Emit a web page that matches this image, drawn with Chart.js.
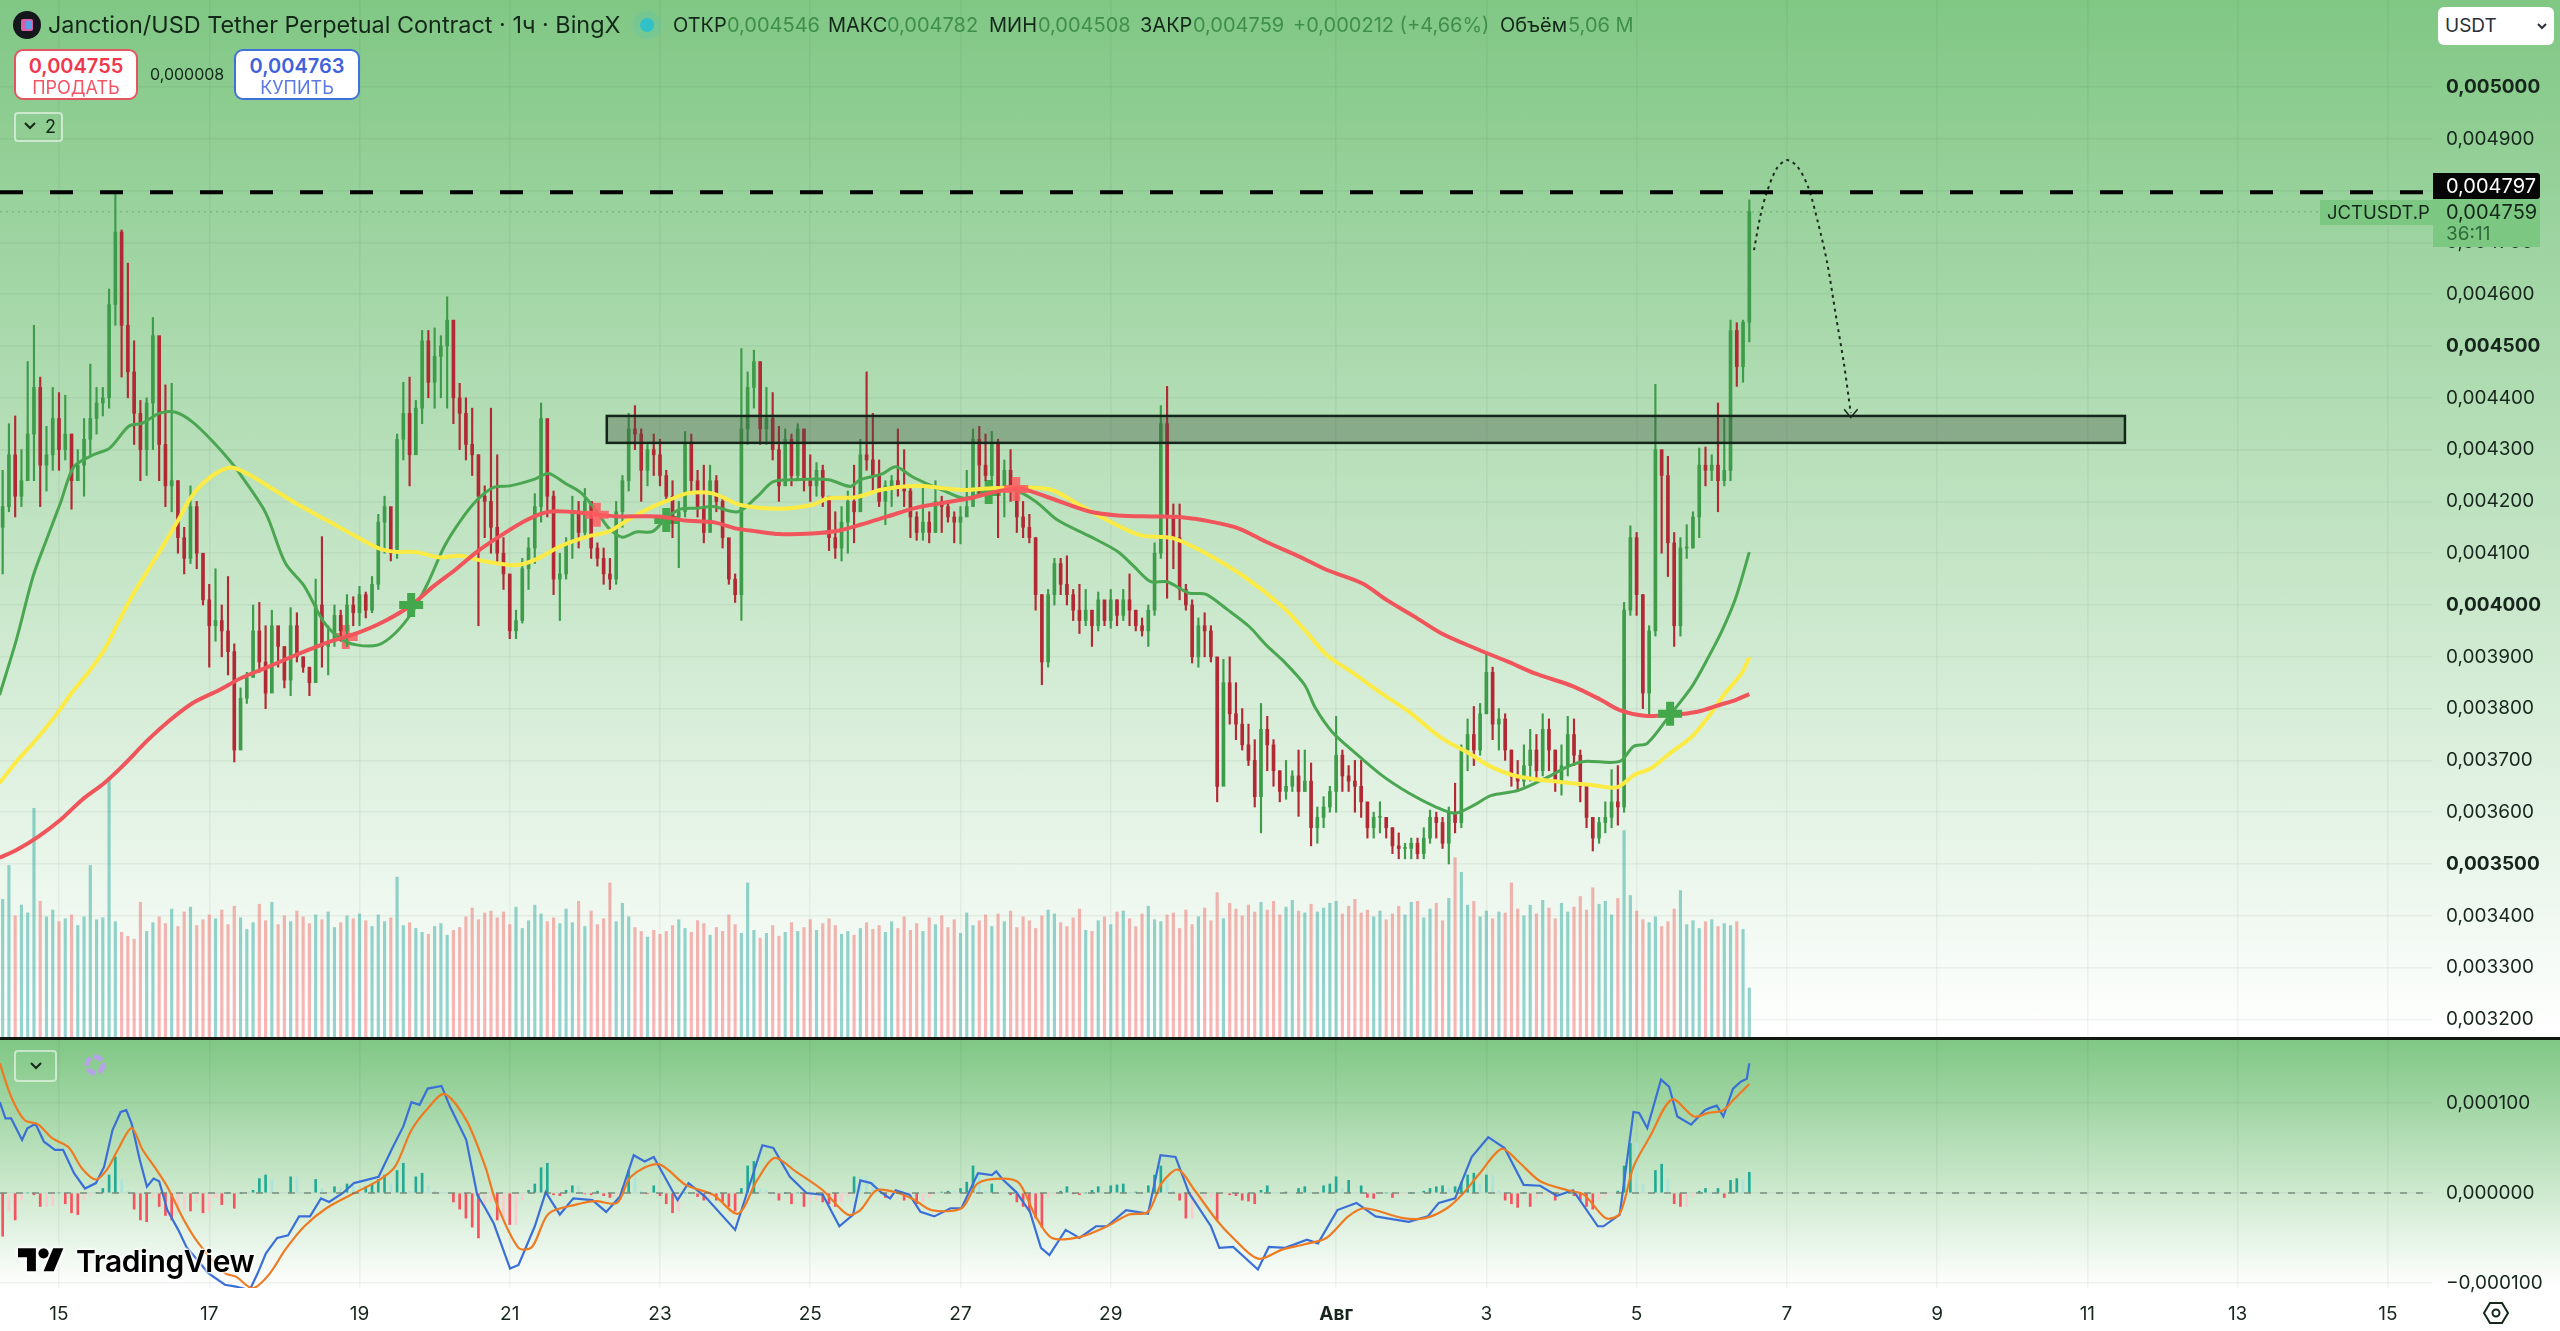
<!DOCTYPE html>
<html lang="ru">
<head>
<meta charset="utf-8">
<title>JCTUSDT.P</title>
<script src="https://cdn.jsdelivr.net/npm/chart.js@4"></script>
<style>
  html, body { margin: 0; padding: 0; background: #fff; }
  body { width: 2560px; height: 1331px; position: relative; overflow: hidden; font-family: Inter, sans-serif; color: #14281a; }
  #pricePane { position: absolute; left: 0; top: 0; width: 2560px; height: 1037px; background: linear-gradient(#80c784, #ffffff); }
  #macdPane { position: absolute; left: 0; top: 1040px; width: 2560px; height: 291px; background: linear-gradient(#80c784, #ffffff 248px); }
  #divider { position: absolute; left: 0; top: 1037px; width: 2560px; height: 3px; background: #10180f; }
  .t { position: absolute; white-space: nowrap; }
  .ohlc { top: 12px; font-size: 20px; line-height: 26px; }
  .val { color: #3f8f4c; }
  .btn { position: absolute; top: 49px; height: 47px; background: #fff; border-radius: 9px; border: 2px solid; text-align: center; }
  .btn b { display: block; font-size: 20px; line-height: 24px; margin-top: 3px; font-weight: 600; }
  .btn span { display: block; font-size: 18px; line-height: 20px; opacity: .85; }
  .fold { position: absolute; border: 2px solid rgba(255,255,255,.55); border-radius: 4px; box-sizing: border-box; }
</style>
</head>
<body>
<div id="pricePane"><canvas id="priceChart" width="2560" height="1037"></canvas></div>
<div id="divider"></div>
<div id="macdPane"><canvas id="macdChart" width="2560" height="291"></canvas></div>

<svg class="t" style="left:13px;top:11px" width="28" height="28"><circle cx="14" cy="14" r="14" fill="#14181c"/><rect x="8" y="8" width="12" height="12" rx="2" fill="#d860a8"/><rect x="13" y="10" width="6" height="8" fill="#5aa0e8"/></svg>
<div class="t" style="left:48px;top:10px;font-size:23.4px;line-height:30px">Janction/USD Tether Perpetual Contract · 1ч · BingX</div>
<svg class="t" style="left:632px;top:10px" width="30" height="30"><circle cx="15" cy="15" r="14" fill="#5fc5a8" opacity=".35"/><circle cx="15" cy="15" r="7" fill="#2fc0c8"/></svg>
<div class="t ohlc" style="left:673px">ОТКР</div><div class="t ohlc val" style="left:727px">0,004546</div>
<div class="t ohlc" style="left:828px">МАКС</div><div class="t ohlc val" style="left:887px">0,004782</div>
<div class="t ohlc" style="left:989px">МИН</div><div class="t ohlc val" style="left:1038px">0,004508</div>
<div class="t ohlc" style="left:1140px">ЗАКР</div><div class="t ohlc val" style="left:1193px">0,004759</div>
<div class="t ohlc val" style="left:1293px">+0,000212 (+4,66%)</div>
<div class="t ohlc" style="left:1500px">Объём</div><div class="t ohlc val" style="left:1568px">5,06 M</div>

<div class="btn" style="left:14px;width:120px;border-color:#e25561;color:#f0374c"><b>0,004755</b><span>ПРОДАТЬ</span></div>
<div class="t" style="left:150px;top:63px;font-size:16px;line-height:22px">0,000008</div>
<div class="btn" style="left:234px;width:122px;border-color:#3f72d8;color:#3f62dc"><b>0,004763</b><span>КУПИТЬ</span></div>
<div class="fold" style="left:14px;top:112px;width:49px;height:30px"></div>
<svg class="t" style="left:22px;top:120px" width="16" height="12"><path d="M3 3l5 5 5-5" fill="none" stroke="#14281a" stroke-width="2"/></svg>
<div class="t" style="left:45px;top:114px;font-size:18px;line-height:26px">2</div>

<div class="t" style="left:2438px;top:7px;width:116px;height:38px;background:#fff;border-radius:6px"></div>
<div class="t" style="left:2445px;top:12px;font-size:19px;line-height:28px;color:#2a2e39">USDT</div>
<svg class="t" style="left:2536px;top:20px" width="12" height="12"><path d="M2 4l4 4 4-4" fill="none" stroke="#2a2e39" stroke-width="2"/></svg>

<div class="t" style="left:2320px;top:200px;width:113px;height:25px;background:#7cc782"></div>
<div class="t" style="left:2327px;top:199px;font-size:18.5px;line-height:27px">JCTUSDT.P</div>
<div class="t" style="left:2433px;top:199px;width:107px;height:48px;background:#7cc782"></div>
<div class="t" style="left:2446px;top:199px;font-size:20px;line-height:26px">0,004759</div>
<div class="t" style="left:2446px;top:222px;font-size:19px;line-height:24px;color:#2f6b3a">36:11</div>
<div class="t" style="left:2433px;top:173px;width:107px;height:26px;background:#050505;border-radius:0 3px 3px 0"></div>
<div class="t" style="left:2446px;top:173px;font-size:20px;line-height:26px;color:#fff">0,004797</div>

<div class="fold" style="left:14px;top:1050px;width:43px;height:32px"></div>
<svg class="t" style="left:28px;top:1060px" width="16" height="12"><path d="M3 3l5 5 5-5" fill="none" stroke="#14281a" stroke-width="2"/></svg>
<svg class="t" style="left:83px;top:1053px" width="24" height="24"><circle cx="12" cy="12" r="8" fill="none" stroke="#b5a4e6" stroke-width="5" stroke-dasharray="9 3"/></svg>

<svg class="t" style="left:18px;top:1243px;filter:drop-shadow(0 0 2px #fff) drop-shadow(0 0 2px #fff)" width="46" height="36" viewBox="0 0 36 28"><path d="M14 22H7V11H0V4h14v18zM28 22h-8l7.5-18h8L28 22z" fill="#000"/><circle cx="20" cy="8" r="4" fill="#000"/></svg>
<div class="t" style="left:76px;top:1241px;font-size:30px;line-height:40px;font-weight:600;color:#000;letter-spacing:-.4px;text-shadow:0 0 3px #fff,0 0 3px #fff,0 0 3px #fff,0 0 3px #fff">TradingView</div>
<svg class="t" style="left:2482px;top:1299px" width="28" height="28"><path d="M8 4h12l6 10-6 10H8L2 14z" fill="none" stroke="#14281a" stroke-width="2"/><circle cx="14" cy="14" r="3.5" fill="none" stroke="#14281a" stroke-width="2"/></svg>

<script>
// prices and MACD are kept in millionths of USDT, volume in millions
const firstHour = -18; // hours from 15 Jul 00:00
const highs = [
  4260,4350,4365,4300,4470,4540,4440,4345,4420,4410,
  4405,4330,4300,4360,4465,4420,4420,4610,4795,4724,
  4660,4510,4395,4400,4555,4465,4425,4428,4240,4150,
  4230,4200,4050,4040,4070,4000,4055,3925,3840,3870,
  4000,4005,3960,3990,3950,3870,3995,3985,3900,3880,
  4050,4132,3960,4000,3990,4020,4016,4036,4025,4055,
  4175,4210,4160,4330,4430,4440,4395,4530,4530,4535,4520,
  4595,4520,4428,4400,4380,4290,4230,4380,4290,4130,
  4050,3990,4090,4130,4215,4390,4350,4220,4100,4130,
  4210,4200,4225,4180,4120,4110,4090,4200,4250,4370,
  4385,4340,4310,4330,4320,4260,4240,4200,4335,4330,
  4260,4270,4270,4250,4210,4120,4060,4495,4450,4492,
  4465,4420,4410,4345,4340,4330,4350,4330,4290,4275,
  4270,4200,4180,4190,4220,4270,
  4320,4450,4370,4280,4240,4250,4340,4300,4225,4180,
  4230,4180,4240,4210,4200,4180,4190,4260,4340,4345,
  4330,4335,4320,4280,4300,4220,4200,4175,4130,4020,
  4030,4090,4090,4095,4030,4040,4030,3990,4025,4000,
  4030,4010,4030,4060,3990,3975,4000,4120,4385,4422,
  4195,4195,4040,4010,3975,3985,3960,3880,3895,3900,
  3850,3800,3770,3740,3810,3785,3740,3680,3700,3680,
  3720,3720,3695,3610,3630,3650,3785,3720,3690,3700,
  3700,3600,3600,3620,3590,3570,3560,3540,3550,3550,
  3570,3604,3600,3590,3610,3656,3730,3780,3804,3810,
  3908,3880,3800,3790,3720,3700,3730,3760,3750,3790,
  3780,3720,3730,3785,3780,3720,3650,3590,3590,3620,
  3682,3690,4005,4153,4140,4020,3960,4426,4270,4287,
  4140,4130,4155,4180,4303,4305,4290,
  4390,4360,4550,4545,4550,4782
];
const lows = [
  4060,4180,4170,4190,4260,4240,4190,4220,4260,4260,
  4280,4185,4240,4210,4290,4330,4365,4380,4540,4440,
  4400,4310,4240,4250,4300,4240,4190,4180,4100,4060,
  4080,4070,4000,3880,3930,3900,3865,3697,3770,3810,
  3870,3870,3800,3885,3880,3840,3825,3890,3870,3825,
  3890,3880,3865,3920,3930,3920,3960,3960,3975,3985,
  4030,4100,4085,4090,4280,4230,4300,4350,4400,4380,4400,
  4380,4350,4300,4280,4250,3960,4130,4100,4080,4030,
  3935,3935,3965,4030,4080,4160,4170,4020,3970,4050,
  4090,4110,4130,4090,4075,4040,4030,4040,4150,4220,
  4300,4200,4230,4250,4230,4200,4130,4072,4170,4220,
  4170,4120,4170,4180,4110,4040,4005,3970,4310,4380,
  4310,4310,4280,4200,4240,4230,4240,4220,4200,4210,
  4190,4105,4090,4085,4100,4120,
  4210,4260,4220,4190,4155,4190,4210,4190,4130,4125,
  4125,4120,4140,4140,4160,4120,4118,4180,4200,4210,
  4240,4230,4130,4170,4200,4140,4130,4120,3990,3846,
  3880,4000,4020,4000,3970,3945,3960,3920,3950,3960,
  3955,3960,3970,3960,3950,3940,3920,3980,4090,4013,
  4070,4010,3990,3888,3880,3900,3890,3620,3700,3770,
  3740,3720,3690,3610,3560,3680,3650,3620,3625,3640,
  3592,3640,3535,3540,3570,3600,3600,3640,3640,3600,
  3590,3550,3550,3560,3550,3520,3510,3510,3510,3510,
  3510,3540,3550,3530,3500,3560,3570,3680,3690,3710,
  3790,3740,3720,3700,3650,3640,3650,3660,3660,3670,
  3680,3640,3633,3670,3690,3620,3570,3525,3540,3560,
  3570,3575,3600,3980,3980,3800,3788,3940,4100,4055,
  3920,3940,4090,4110,4130,4230,4240,
  4180,4230,4240,4422,4430,4508
];
const closes = [
  4190,4290,4210,4240,4330,4420,4270,4290,4360,4300,
  4330,4240,4270,4320,4360,4390,4400,4580,4720,4540,
  4450,4370,4300,4390,4520,4310,4230,4240,4130,4090,
  4190,4100,4010,3960,3970,3950,3910,3720,3820,3860,
  3950,3890,3830,3960,3920,3855,3960,3900,3880,3850,
  4000,3920,3930,3980,3950,4000,3985,4020,3990,4040,
  4160,4190,4100,4320,4370,4290,4380,4510,4430,4480,4500,
  4550,4400,4370,4310,4290,4210,4200,4150,4100,4060,
  3950,3970,4070,4110,4190,4360,4210,4050,4060,4120,
  4180,4140,4200,4110,4090,4060,4050,4180,4240,4340,
  4330,4260,4300,4290,4250,4210,4170,4180,4310,4240,
  4190,4140,4240,4200,4130,4050,4020,4340,4420,4470,
  4340,4360,4300,4230,4320,4250,4340,4240,4230,4260,
  4210,4130,4110,4160,4200,4180,
  4290,4280,4250,4200,4230,4240,4230,4220,4170,4140,
  4160,4140,4200,4190,4170,4160,4170,4190,4320,4270,
  4250,4310,4220,4260,4230,4170,4150,4130,4020,3890,
  4020,4080,4040,4020,3990,3970,3990,3960,4010,3970,
  4010,3980,4010,3990,3960,3950,3990,4100,4350,4170,
  4130,4030,4000,3900,3960,3950,3900,3650,3850,3790,
  3770,3730,3700,3630,3760,3730,3680,3640,3650,3670,
  3640,3660,3570,3590,3610,3640,3710,3670,3660,3650,
  3620,3570,3590,3590,3570,3535,3530,3530,3540,3520,
  3550,3590,3580,3540,3600,3580,3720,3750,3720,3790,
  3870,3770,3780,3720,3670,3660,3690,3720,3680,3760,
  3720,3660,3690,3750,3710,3650,3590,3550,3580,3590,
  3620,3610,3990,4130,4020,3830,3950,4300,4250,4120,
  3960,4110,4110,4170,4270,4260,4270,
  4240,4260,4530,4460,4546,4759
];
const firstOpen = 4150;
const volumes = [
  14.2,17.7,12.5,13.6,12.8,23.6,14.0,12.4,13.1,11.9,12.2,12.6,11.5,12.4,17.7,12.1,12.3,26.8,11.9,10.8,
  10.4,10.1,13.9,10.9,11.8,12.4,11.7,13.2,11.4,12.9,13.4,11.5,12.1,12.6,12.2,13.1,11.6,13.5,12.3,11.1,
  11.8,13.7,12.0,13.9,11.6,12.5,11.9,13.0,12.4,11.7,12.6,12.1,12.9,11.3,11.8,12.5,12.2,12.7,12.0,11.4,
  12.6,11.9,12.3,16.5,11.5,11.8,11.2,10.8,10.6,11.4,11.7,10.5,11.0,11.3,12.4,13.3,12.1,12.8,13.0,12.3,
  12.9,11.6,13.4,11.2,12.0,13.6,12.7,11.9,12.3,11.7,13.2,11.8,14.0,11.4,13.0,11.6,12.2,15.9,11.9,13.8,
  12.4,11.3,10.9,10.3,11.0,10.6,10.9,11.5,12.1,11.2,10.8,12.0,11.7,10.5,11.3,10.9,12.6,11.6,10.7,15.9,
  11.0,10.2,10.7,11.5,10.4,10.8,11.8,10.9,11.3,12.1,11.0,11.7,12.2,11.5,10.6,10.9,10.5,11.2,11.8,11.1,
  11.5,10.8,11.9,11.2,12.4,11.0,11.7,10.9,12.3,11.6,12.5,11.3,12.1,10.7,12.8,11.5,12.0,12.6,11.4,12.7,
  11.9,13.0,11.3,12.4,12.0,11.2,12.5,13.1,12.7,11.8,11.4,12.3,13.2,11.0,10.9,12.0,12.4,11.6,12.9,13.0,
  12.2,11.4,12.7,13.5,12.1,11.9,12.6,12.8,11.2,13.1,11.6,12.4,13.3,12.0,14.9,12.2,13.8,13.2,12.5,13.6,
  12.9,13.9,13.1,14.0,12.6,13.4,14.1,13.0,12.8,13.7,12.9,13.3,13.8,14.0,12.7,13.5,14.2,12.8,13.1,12.4,
  13.0,12.1,12.7,13.5,12.6,13.9,14.0,12.3,13.2,13.8,12.0,14.3,18.5,17.0,13.6,14.0,12.4,13.0,12.2,12.9,
  12.8,15.9,13.2,12.5,13.6,12.7,14.1,13.3,12.2,13.8,12.9,13.4,14.5,13.1,15.4,13.7,14.0,12.6,14.3,21.3,
  14.6,13.0,12.1,11.8,12.4,11.4,11.9,13.2,15.1,11.6,12.0,11.2,11.9,12.1,11.4,11.7,11.5,11.9,11.1,5.06
];
const macdHist = [
  -48,-20,-30,-8,0,-2,-15,-15,-14,0,
  -12,-22,-24,-8,-3,0,5,20,40,15,
  2,-18,-30,-32,-5,-15,-25,-30,-22,-18,
  -20,-10,-22,-20,-5,-13,0,-17,0,0,
  3,16,20,15,0,0,18,18,0,0,
  15,5,0,7,6,10,8,0,7,10,
  15,20,10,25,33,2,18,22,8,2,1,
  0,-10,-18,-28,-38,-50,-15,-10,-30,-30,
  -35,-35,-8,3,10,28,33,-2,-3,3,
  8,8,-1,-2,2,-3,-5,-3,5,25,
  25,2,-1,8,-3,-12,-22,-20,0,0,
  -4,-8,-5,-8,-10,-15,-20,5,30,35,
  5,3,0,-8,0,-12,0,-15,-10,-8,
  -10,-12,-15,-10,-3,18,
  18,18,12,5,-5,-5,-1,-8,-5,-12,
  -10,-5,-1,1,2,2,5,12,30,20,
  2,10,1,1,-2,-10,-15,-20,-28,-38,
  -5,-2,2,7,-1,-2,0,3,7,0,
  8,9,10,0,1,1,8,20,30,15,
  2,-8,-28,-28,-10,-6,-5,-30,-1,-2,
  -3,-8,-9,-12,3,8,0,0,1,0,
  5,7,1,0,8,10,18,5,14,0,
  8,-5,-6,-1,0,-5,-3,-1,0,0,
  2,5,7,8,5,7,12,20,22,10,
  20,20,3,-8,-12,-16,0,-15,-6,-3,
  -2,-8,-2,2,-3,-8,-15,-18,-8,-3,
  -1,2,30,55,55,10,0,25,32,15,
  -12,-15,-15,-3,2,5,1,
  5,-5,14,16,15,23
];

// moving averages
const greenMaHours = [-19,-13.6,-8.3,-4,0.4,4.8,11,16.2,22.3,26.7,32,37.2,42.5,48.6,54.8,59.1,66.1,72.3,78.4,84.5,89.8,95,102,107.3,112.6,117.8,123.1,128.4,133.6,138.9,144.1,152,156.4,161.7,166.9,172.2,175.7,180,184.4,189.7,194,198.5,203.7,209,216.9,223,228.2,235.3,245.8,252.8,256,263,267.3,272.5,277,282.2,289.2,296.2,305,312,319,329.5,338.3,343.5,348.8,354,361,366.3,373.3,380.3,385.6,390.8,397.9,401.4,406.6,413.6,422.4,431.2,439.9,446,452.2,457.4,466.2,475,482,487.2,498.6,503,507.4,514.7,521.7,527,531.4,535.8,540];
const greenMa = [3826,3933,4055,4126,4196,4267,4290,4303,4345,4351,4370,4372,4354,4319,4277,4242,4177,4081,4036,3968,3936,3923,3923,3945,3984,4042,4113,4164,4203,4227,4230,4243,4254,4235,4216,4177,4148,4131,4141,4142,4168,4185,4187,4190,4180,4209,4238,4242,4242,4229,4242,4253,4267,4248,4235,4222,4206,4216,4222,4200,4164,4132,4103,4074,4045,4045,4023,4021,3991,3958,3923,3894,3846,3801,3756,3717,3672,3637,3610,3598,3614,3632,3642,3666,3688,3698,3698,3727,3733,3788,3843,3900,3952,4016,4102];
const yellowMaHours = [-19,-13.6,-8.3,-1.3,4,10,14.4,18.8,23.2,28.5,33.7,38.1,41.6,46,51.2,55.6,61.8,68.8,77.5,86.3,95,102,107.3,114.3,121.3,128.4,135.4,145.9,152,160,168.7,175.7,182.7,189.7,195,201,209,217.7,230,240.5,245.8,254.5,263,273.4,280.4,289.2,296.2,308.5,317.2,326,334.8,345.3,355.8,366.3,378.6,390.8,397.9,404.9,413.6,422.4,431.2,441.7,450.4,457.4,466.2,480.2,489,497.7,503.3,508.6,514.7,521.7,527,532.3,537.5,540];
const yellowMa = [3656,3698,3733,3785,3830,3875,3913,3965,4016,4068,4119,4164,4203,4235,4258,4265,4248,4222,4190,4161,4132,4110,4103,4102,4092,4095,4085,4077,4087,4113,4132,4142,4168,4190,4203,4216,4215,4193,4186,4193,4206,4208,4223,4230,4227,4222,4225,4227,4222,4193,4164,4135,4129,4100,4055,3997,3952,3904,3868,3830,3794,3743,3714,3688,3669,3658,3653,3648,3672,3685,3714,3746,3785,3830,3868,3899];
const redMaHours = [-19,-13.6,-6.6,0.4,7.4,14.4,20.6,28.5,35.5,42.5,51.2,58.2,67,75.8,86.3,95,103.8,112.6,119.6,126.6,133.6,140.6,149.4,156.4,163.4,172.2,179.2,191.5,200.2,209,216,223,230,240.5,249.3,256,264.7,273.4,282.2,291,298,306.7,315.5,329.5,338.3,350.5,359.3,368,376.8,385.6,396.1,404.9,416.3,424.1,432.9,441.7,452.2,462.7,471.5,483.7,492.5,498.6,506.5,515.3,523.5,530.5,535.8,540];
const redMa = [3512,3527,3553,3585,3624,3656,3691,3740,3778,3810,3836,3859,3881,3904,3929,3945,3968,4000,4036,4068,4103,4132,4164,4180,4180,4174,4171,4171,4163,4160,4148,4142,4137,4138,4144,4155,4171,4187,4197,4206,4217,4225,4209,4180,4173,4171,4169,4161,4148,4122,4094,4068,4042,4010,3978,3945,3917,3891,3868,3843,3817,3797,3786,3788,3794,3807,3817,3828];

// MACD and signal lines
const macdHours = [-18.9,-17.1,-15.3,-11.8,-10.1,-7.5,-4.8,-1.3,1.3,4.8,8.3,11.8,14.4,17.1,19.7,21.5,23.2,25.8,28.1,30.2,32,34.6,38.1,40.7,47.7,53,56.5,60.9,63.5,66.1,69.7,73.2,76.7,80.2,83.7,86.3,90.7,94.2,97.7,102.1,106.5,110,112.6,115.2,117.8,122.2,124.9,130.1,133.6,136.2,138.9,144.1,146.8,152,155.5,160,164.3,170.4,174.8,179.2,183.6,187.1,190,197.6,201.1,206.4,216,224.7,228.2,233.5,238.8,244,249.3,253.7,256,259.4,262.9,265.5,267.3,271.7,275.2,279.6,284.8,288.3,293.6,298,299.4,301.5,305.8,310.2,313.7,316.4,321.6,326,331.3,334.8,340.9,347.9,351.9,356.7,361,368,370.7,375.1,383,386.5,391.7,398.7,402.2,408.4,414.5,420.6,431.2,437.3,440.8,446,451.3,456.6,461.8,467.9,473.2,478.5,483.7,491.6,493.4,498.6,503,504.8,507.4,511.8,514.4,517,521.4,525.8,527,529.6,531.7,534.8,537.4,539.2,540];
const macdLine = [101,83,83,59,72,77,57,48,48,22,5,11,29,70,90,92,77,37,7,16,13,-19,-41,-60,-89,-102,-104,-108,-89,-67,-50,-47,-26,-26,-6,-10,0,11,14,18,50,74,101,98,116,119,96,59,-2,-17,-34,-84,-80,-37,1,-24,-6,-8,-21,-4,42,35,40,-8,11,-4,-41,53,50,18,0,-2,-37,-24,14,11,0,-6,3,-2,-21,-26,-17,-17,22,20,24,15,1,-21,-61,-69,-41,-50,-37,-37,-19,-23,42,40,0,-37,-61,-60,-85,-60,-61,-52,-56,-19,-11,-26,-32,-26,-11,-6,40,62,50,9,8,-3,3,-37,-37,-24,90,89,72,126,118,85,76,92,94,97,85,116,124,127,144];
const signalHours = [-18.9,-15.3,-11,-6.6,-2.2,3,7.4,11.8,15.3,18.8,23.2,26.7,31.1,34.6,39.9,44.6,53,56.5,61.8,67,72.3,78.4,85.4,93.3,102.1,107.3,112.6,117.8,123.1,130.1,136.2,139.7,146.8,151.1,156.4,165.1,171.3,178.3,182.7,191.5,200.2,209,216.9,223,228.6,235.3,244,251.9,256,261.2,268.2,273.4,278.7,288.3,293.6,301.5,306.7,312,317.2,326,334.8,341.8,347.9,352.3,357.5,362.8,369.8,375.1,383,390.8,397.9,404.9,411.9,417.1,429.4,436.4,443.4,448.7,453.9,460.9,466.2,473.2,482,487.2,494.2,498.6,503,508.3,515.3,522.3,527,531.7,534.8,540];
const signalLine = [144,107,81,76,61,51,27,15,26,48,72,48,26,7,-30,-56,-89,-93,-106,-91,-63,-37,-17,-2,14,29,70,94,110,81,29,-11,-61,-60,-23,-13,-9,-11,18,32,9,-2,-23,14,39,24,3,-24,-19,3,0,-8,-19,-17,11,16,11,-26,-50,-49,-37,-24,-21,11,26,3,-30,-50,-73,-63,-57,-50,-26,-17,-28,-28,-17,0,22,49,35,13,3,-2,-28,-23,29,63,104,85,89,92,103,121];

// cross signals: the first group sits on top of the lines, the second under the candles
const greenCrossHours = [112.5, 514.7];
const greenCrossPrices = [4000, 3790];
const redCrossHours = [171.8, 305.8];
const redCrossPrices = [4174, 4224];
const greenCrossUnderHours = [194, 297];
const greenCrossUnderPrices = [4164, 4218];
const redCrossUnderHours = [91.6];
const redCrossUnderPrices = [3938];

// drawings
const resistancePrice = 4797;
const lastPrice = 4759;
const zoneHours = [175, 660];
const zonePrices = [4313, 4365];
const arcHours = [541.5,543.5,545.6,548.8,552,555.4,558.8,562,564.9,567.7,570.2,572.4];
const arcPrices = [4685,4750,4797,4843,4859,4846,4807,4737,4660,4557,4467,4371];
const arrowHours = [570.3,572.4,574.6];
const arrowPrices = [4378,4362,4378];

// axes
const axisMinHour = -18.85;
const axisMaxHour = 758.1;
const dayTickHours = [0,48,96,144,192,240,288,336,408,456,504,552,600,648,696,744];
const dayTickLabels = ["15","17","19","21","23","25","27","29","Авг","3","5","7","9","11","13","15"];
const priceTicks = [5000,4900,4800,4700,4600,4500,4400,4300,4200,4100,4000,3900,3800,3700,3600,3500,3400,3300,3200];
const boldPriceTicks = [5000,4500,4000,3500];
const macdTicks = [100,0,-100];

const labelColor = "#17261c";
const gridColor = "rgba(30,50,35,0.055)";
const upColor = "#3e9b4a";
const downColor = "#b22833";
const crossGreen = "#43a84b";
const crossRed = "rgba(255,90,95,0.85)";

Chart.defaults.font.family = "Inter, sans-serif";
Chart.defaults.font.size = 19;
Chart.defaults.color = labelColor;

const hours = closes.map((_, i) => firstHour + i * 2);
const opens = closes.map((_, i) => (i === 0 ? firstOpen : closes[i - 1]));
const candleColors = closes.map((c, i) => (c >= opens[i] ? upColor : downColor));
const volumeColors = closes.map((c, i) => (c >= opens[i] ? "rgba(38,166,154,0.48)" : "rgba(239,83,80,0.42)"));
const histColors = macdHist.map((v, i) => {
  const prev = i === 0 ? 0 : macdHist[i - 1];
  if (v >= 0) return v > prev ? "#22ab94" : "#ace5dc";
  return v < prev ? "#f7525f" : "#fccbcd";
});

function toPoints(xs, ys) {
  return xs.map((x, i) => ({ x, y: ys[i] }));
}

function formatPrice(v) {
  const text = (Math.abs(v) / 1e6).toFixed(6).replace(".", ",");
  return v < 0 ? "\u2212" + text : text;
}

function noPadding(scale) {
  scale.paddingTop = 0;
  scale.paddingBottom = 0;
  scale.paddingLeft = 0;
  scale.paddingRight = 0;
}

function tickFont(boldValues) {
  return (ctx) => ({ size: 19, weight: ctx.tick && boldValues.includes(ctx.tick.value) ? "700" : "400" });
}

function rightAxis(min, max, ticks, boldTicks) {
  return {
    position: "right",
    min,
    max,
    afterBuildTicks: (s) => { s.ticks = ticks.map((value) => ({ value })); },
    afterFit: (s) => { s.width = 128; noPadding(s); },
    grid: { color: gridColor, lineWidth: 1.5, drawTicks: false },
    border: { display: false },
    ticks: {
      padding: 14,
      autoSkip: false,
      callback: formatPrice,
      color: labelColor,
      font: tickFont(boldTicks),
    },
  };
}

function timeAxis(showLabels) {
  return {
    type: "linear",
    offset: false,
    min: axisMinHour,
    max: axisMaxHour,
    afterBuildTicks: (s) => { s.ticks = dayTickHours.map((value) => ({ value })); },
    afterFit: (s) => { s.height = showLabels ? 43 : 0; noPadding(s); },
    grid: { offset: false, color: gridColor, lineWidth: 1.5, drawTicks: false },
    border: { display: false },
    ticks: {
      display: showLabels,
      padding: 15,
      autoSkip: false,
      maxRotation: 0,
      callback: (v) => dayTickLabels[dayTickHours.indexOf(v)],
      color: labelColor,
      font: tickFont([408]),
    },
  };
}

function maLine(xs, ys, color, width) {
  return {
    type: "line",
    data: toPoints(xs, ys),
    borderColor: color,
    borderWidth: width,
    pointRadius: 0,
    tension: 0.3,
    order: 1,
  };
}

function crossMarks(xs, ys, color, order) {
  return {
    type: "line",
    data: toPoints(xs, ys),
    showLine: false,
    pointStyle: "cross",
    pointRadius: 12,
    pointBorderWidth: 8,
    pointBorderColor: color,
    order,
  };
}

function levelLine(price, color, width, dash, yAxisID) {
  return {
    type: "line",
    data: toPoints([axisMinHour, axisMaxHour], [price, price]),
    borderColor: color,
    borderWidth: width,
    borderDash: dash,
    pointRadius: 0,
    yAxisID,
    order: 0,
  };
}

const zonePlugin = {
  id: "zone",
  afterDatasetsDraw(chart) {
    const { x, y } = chart.scales;
    const left = x.getPixelForValue(zoneHours[0]);
    const right = x.getPixelForValue(zoneHours[1]);
    const top = y.getPixelForValue(zonePrices[1]);
    const bottom = y.getPixelForValue(zonePrices[0]);
    const ctx = chart.ctx;
    ctx.save();
    ctx.fillStyle = "rgba(63,85,63,0.37)";
    ctx.fillRect(left, top, right - left, bottom - top);
    ctx.strokeStyle = "#14261a";
    ctx.lineWidth = 2.5;
    ctx.strokeRect(left, top, right - left, bottom - top);
    ctx.restore();
  },
};

new Chart(document.getElementById("priceChart"), {
  type: "bar",
  plugins: [zonePlugin],
  data: {
    datasets: [
      {
        data: toPoints(hours, volumes),
        backgroundColor: volumeColors,
        barThickness: 2.5,
        grouped: false,
        yAxisID: "vol",
        order: 9,
      },
      crossMarks(greenCrossUnderHours, greenCrossUnderPrices, crossGreen, 4),
      crossMarks(redCrossUnderHours, redCrossUnderPrices, crossRed, 4),
      {
        data: hours.map((h, i) => ({ x: h, y: [lows[i], highs[i]] })),
        backgroundColor: candleColors,
        barThickness: 1.5,
        grouped: false,
        order: 3,
      },
      {
        data: hours.map((h, i) => ({ x: h, y: [opens[i], closes[i]] })),
        backgroundColor: candleColors,
        barThickness: 3,
        minBarLength: 1,
        grouped: false,
        order: 2,
      },
      maLine(redMaHours, redMa, "#f0555c", 4),
      maLine(yellowMaHours, yellowMa, "#fdeb45", 4),
      maLine(greenMaHours, greenMa, "#4aa651", 3),
      crossMarks(greenCrossHours, greenCrossPrices, crossGreen, 0),
      crossMarks(redCrossHours, redCrossPrices, crossRed, 0),
      levelLine(lastPrice, "rgba(60,140,70,0.35)", 1.5, [2, 4], "y"),
      levelLine(resistancePrice, "#000", 4, [23, 27], "y"),
      {
        type: "line",
        data: toPoints(arcHours, arcPrices),
        borderColor: "#1c2b1f",
        borderWidth: 2,
        borderDash: [3, 4],
        pointRadius: 0,
        tension: 0.3,
        order: 0,
      },
      {
        type: "line",
        data: toPoints(arrowHours, arrowPrices),
        borderColor: "#1c2b1f",
        borderWidth: 1.5,
        pointRadius: 0,
        order: 0,
      },
    ],
  },
  options: {
    responsive: false,
    animation: false,
    devicePixelRatio: 1,
    layout: { padding: 0, autoPadding: false },
    plugins: { legend: { display: false }, tooltip: { enabled: false } },
    scales: {
      x: timeAxis(false),
      y: rightAxis(3166, 5168, priceTicks, boldPriceTicks),
      vol: { display: false, min: 0, max: 107 },
    },
  },
});

new Chart(document.getElementById("macdChart"), {
  type: "bar",
  data: {
    datasets: [
      {
        data: toPoints(hours, macdHist),
        backgroundColor: histColors,
        barThickness: 2,
        grouped: false,
        yAxisID: "y",
        order: 3,
      },
      levelLine(0, "rgba(95,110,100,0.55)", 2, [7, 9], "y"),
      {
        type: "line",
        data: toPoints(macdHours, macdLine),
        borderColor: "#3b6fd8",
        borderWidth: 2.2,
        pointRadius: 0,
        order: 2,
      },
      {
        type: "line",
        data: toPoints(signalHours, signalLine),
        borderColor: "#ee7a22",
        borderWidth: 2.2,
        pointRadius: 0,
        tension: 0.3,
        order: 1,
      },
    ],
  },
  options: {
    responsive: false,
    animation: false,
    devicePixelRatio: 1,
    layout: { padding: 0, autoPadding: false },
    plugins: { legend: { display: false }, tooltip: { enabled: false } },
    scales: {
      x: timeAxis(true),
      y: rightAxis(-105.6, 170, macdTicks, []),
    },
  },
});
</script>
</body>
</html>
